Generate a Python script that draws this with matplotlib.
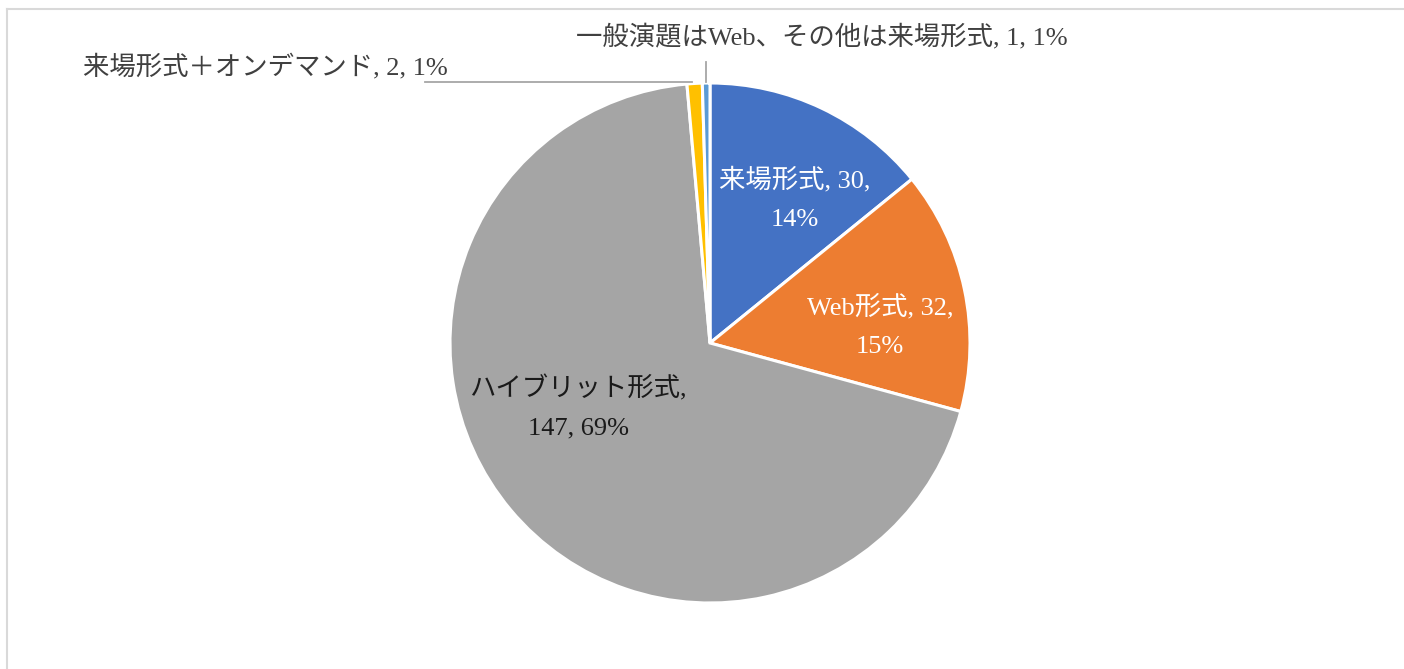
import numpy as np
import matplotlib
matplotlib.use("Agg")
import matplotlib.pyplot as plt

plt.rcParams['font.family'] = ['Liberation Serif', 'Noto Sans CJK JP', 'DejaVu Sans']

# data
categories = ['来場形式', 'Web形式', 'ハイブリット形式', '来場形式＋オンデマンド', '一般演題はWeb、その他は来場形式']
counts = [30, 32, 147, 2, 1]
colors = ['#4472C4', '#ED7D31', '#A5A5A5', '#FFC000', '#5B9BD5']
pct_labels = ['14%', '15%', '69%', '1%', '1%']

W, H = 1404, 669
fig = plt.figure(figsize=(W / 100, H / 100), dpi=100)
ax = fig.add_axes([0, 0, 1, 1])

cx, cy, r = 710, H - 343, 260
wedges, _ = ax.pie(counts, colors=colors, startangle=90, counterclock=False,
                   center=(cx, cy), radius=r, frame=True,
                   wedgeprops=dict(edgecolor='white', linewidth=2.2))
ax.set_xlim(0, W)
ax.set_ylim(0, H)
ax.set_aspect('equal')
ax.axis('off')

# chart frame (top and left edges visible)
ax.plot([7, W], [H - 9, H - 9], color='#d9d9d9', lw=1.5, clip_on=False)
ax.plot([7, 7], [H - 9, 0], color='#d9d9d9', lw=1.5, clip_on=False)

fs = 19
ls = 1.95
# inside labels
ax.text(795, H - 199, f'{categories[0]}, {counts[0]},\n{pct_labels[0]}', color='white',
        fontsize=fs, ha='center', va='center', linespacing=ls)
ax.text(880, H - 326, f'{categories[1]}, {counts[1]},\n{pct_labels[1]}', color='white',
        fontsize=fs, ha='center', va='center', linespacing=ls)
ax.text(578, H - 407, f'{categories[2]},\n{counts[2]}, {pct_labels[2]}', color='#1a1a1a',
        fontsize=fs, ha='center', va='center', linespacing=ls)

# outside labels with leader lines
ax.text(83, H - 66, f'{categories[3]}, {counts[3]}, {pct_labels[3]}', color='#404040',
        fontsize=fs, ha='left', va='center')
ax.plot([425, 692], [H - 82, H - 82], color='#a6a6a6', lw=1.3)
ax.text(822, H - 37, f'{categories[4]}, {counts[4]}, {pct_labels[4]}', color='#404040',
        fontsize=fs, ha='center', va='center')
ax.plot([706, 706], [H - 62, H - 82], color='#a6a6a6', lw=1.3)

fig.savefig('out.png', dpi=100, facecolor='white')
